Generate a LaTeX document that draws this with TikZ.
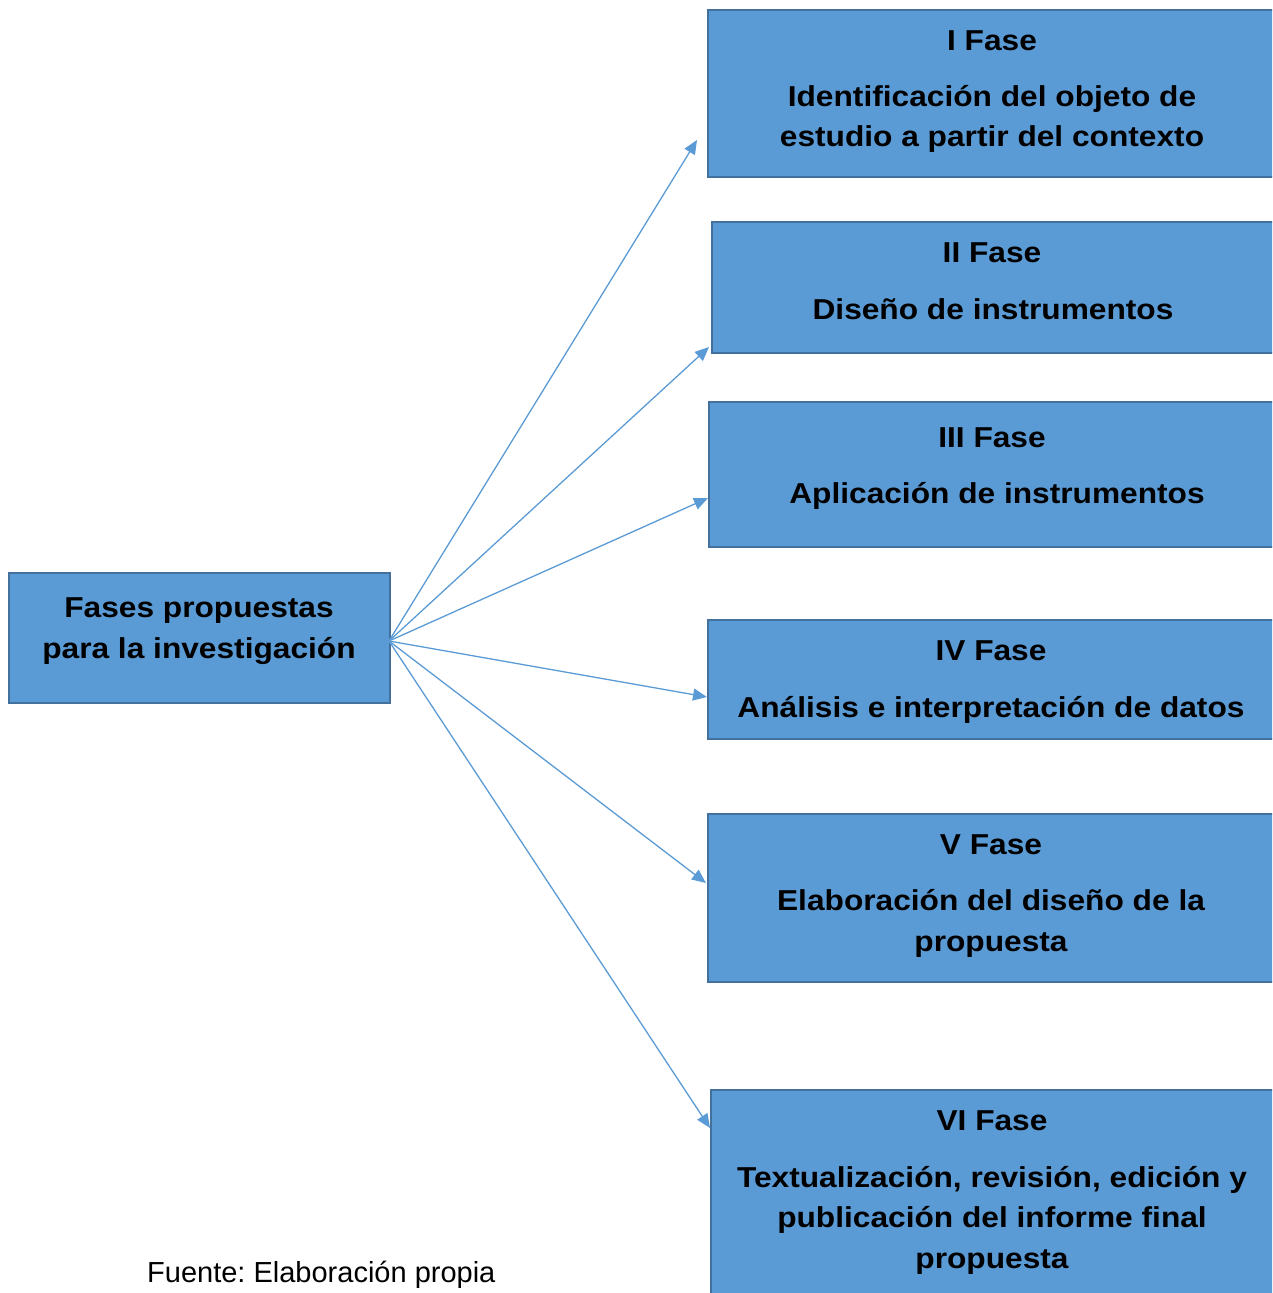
\documentclass[tikz,border=0pt]{standalone}
\usepackage{fontspec}
\setmainfont{Liberation Sans}
\newfontfamily\boxfont{Liberation Sans}[FakeStretch=1.1]
\usetikzlibrary{arrows.meta}
\definecolor{boxfill}{HTML}{5B9BD5}
\definecolor{boxline}{HTML}{41719C}
\definecolor{arrowc}{HTML}{5B9BD5}
\frenchspacing
\begin{document}
\begin{tikzpicture}[x=1pt,y=-1pt,
  phase/.style={draw=boxline, line width=2pt, fill=boxfill, anchor=north west, inner sep=0pt, minimum width=570pt},
  txt/.style={font=\boxfont\bfseries\fontsize{28.8pt}{41pt}\selectfont, anchor=base, inner sep=0pt, text=black},
  conn/.style={draw=arrowc, line width=1.3pt, -{Triangle[length=14pt,width=12pt]}, shorten <=0pt}]
\useasboundingbox (0,0) rectangle (1272,1293);
\clip (0,0) rectangle (1272,1293);
% boxes
\node[phase, minimum width=381pt, minimum height=130pt] (main) at (8,572) {};
\node[phase, minimum height=167pt] (p1) at (707,9) {};
\node[phase, minimum height=131pt] (p2) at (711,221) {};
\node[phase, minimum height=145pt] (p3) at (708,401) {};
\node[phase, minimum height=119pt] (p4) at (707,619) {};
\node[phase, minimum height=168pt] (p5) at (707,813) {};
\node[phase, minimum height=220pt] (p6) at (710,1089) {};
% texts
\node[txt] (m1) at (199,617) {Fases propuestas};
\node[txt] (m2) at (199,658) {para la investigación};
\node[txt] (h1) at (992,50) {I Fase};
\node[txt] (t1a) at (992,106) {Identificación del objeto de};
\node[txt] (t1b) at (992,146) {estudio a partir del contexto};
\node[txt] (h2) at (992,262) {II Fase};
\node[txt] (t2a) at (993,319) {Diseño de instrumentos};
\node[txt] (h3) at (992,447) {III Fase};
\node[txt] (t3a) at (997,503) {Aplicación de instrumentos};
\node[txt] (h4) at (991,660) {IV Fase};
\node[txt] (t4a) at (991,717) {Análisis e interpretación de datos};
\node[txt] (h5) at (991,854) {V Fase};
\node[txt] (t5a) at (991,910) {Elaboración del diseño de la};
\node[txt] (t5b) at (991,951) {propuesta};
\node[txt] (h6) at (992,1130) {VI Fase};
\node[txt] (t6a) at (992,1187) {Textualización, revisión, edición y};
\node[txt] (t6b) at (992,1227) {publicación del informe final};
\node[txt] (t6c) at (992,1268) {propuesta};
\node[anchor=base west, inner sep=0pt, font=\fontsize{29pt}{35pt}\selectfont] (src) at (147,1282) {Fuente: Elaboración propia};
% connector ends
\coordinate (o) at (389,641);
\coordinate (e1) at (697,140);
\coordinate (e2) at (709,347);
\coordinate (e3) at (708,498);
\coordinate (e4) at (707,697);
\coordinate (e5) at (706,883);
\coordinate (e6) at (710,1128);
\foreach \e in {e1,e2,e3,e4,e5,e6} \draw[conn] (o) -- (\e);
\end{tikzpicture}
\end{document}
